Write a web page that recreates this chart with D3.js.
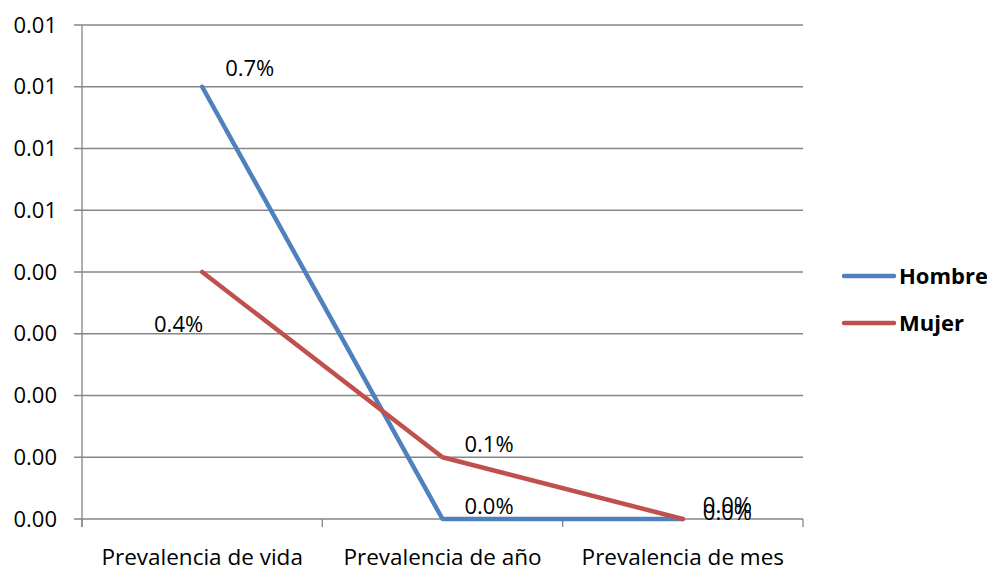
<!DOCTYPE html>
<html><head><meta charset="utf-8">
<script src="https://cdn.jsdelivr.net/npm/d3@7"></script>
<style>
html,body{margin:0;padding:0;background:#fff;}
svg{display:block;font-family:"Open Sans",sans-serif;}
</style></head>
<body>
<svg id="c" width="987" height="569"></svg>
<script>
const categories = ["Prevalencia de vida", "Prevalencia de año", "Prevalencia de mes"];
const hombre = [0.007, 0.0, 0.0];
const mujer = [0.004, 0.001, 0.0];
const seriesNames = ["Hombre", "Mujer"];
const yTicks = [0, 0.001, 0.002, 0.003, 0.004, 0.005, 0.006, 0.007, 0.008];
const hombreLabels = ["0.7%", "0.0%", "0.0%"];
const mujerLabels = ["0.4%", "0.1%", "0.0%"];

// label offsets (style, relative to each point)
const hombreOff = [{dx:23,dy:-11,a:"start"},{dx:22,dy:-5,a:"start"},{dx:20,dy:-6,a:"start"}];
const mujerOff = [{dx:1,dy:60,a:"end"},{dx:22,dy:-5,a:"start"},{dx:20,dy:1,a:"start"}];

const colors = ["#4F81BD", "#C0504D"];
const fs = 22;
const svg = d3.select("#c");
const L = 82, R = 803, T = 25, B = 519;
const x = d3.scaleBand().domain(categories).range([L, R]).paddingInner(0).paddingOuter(0);
const y = d3.scaleLinear().domain([0, 0.008]).range([B, T]);
const cx = c => x(c) + x.bandwidth() / 2;
const grid = "#868686";

// gridlines
svg.append("g").selectAll("line").data(yTicks).join("line")
  .attr("x1", L - 8).attr("x2", R).attr("y1", d => y(d)).attr("y2", d => y(d))
  .attr("stroke", grid).attr("stroke-width", 1.3);

// y axis line
svg.append("line").attr("x1", L).attr("x2", L).attr("y1", T).attr("y2", B + 8)
  .attr("stroke", grid).attr("stroke-width", 1.3);

// x ticks
const xb = categories.map(c => x(c)).concat([R]);
svg.append("g").selectAll("line").data(xb).join("line")
  .attr("x1", d => d).attr("x2", d => d).attr("y1", B).attr("y2", B + 8)
  .attr("stroke", grid).attr("stroke-width", 1.3);

// y labels
svg.append("g").selectAll("text").data(yTicks).join("text")
  .attr("x", 57).attr("y", d => y(d)).attr("dy", "0.35em")
  .attr("text-anchor", "end").attr("font-size", fs).attr("fill", "#000")
  .text(d => d3.format(".2f")(d));

// x labels
svg.append("g").selectAll("text").data(categories).join("text")
  .attr("x", d => cx(d)).attr("y", 565).attr("text-anchor", "middle")
  .attr("font-size", 22.5).attr("fill", "#000").text(d => d);

const series = [hombre, mujer];
const line = d3.line().x((d, i) => cx(categories[i])).y(d => y(d));
series.forEach((s, k) => {
  svg.append("path").attr("d", line(s)).attr("fill", "none")
    .attr("stroke", colors[k]).attr("stroke-width", 4.5)
    .attr("stroke-linejoin", "round").attr("stroke-linecap", "round");
});

// data labels
[[hombre, hombreLabels, hombreOff], [mujer, mujerLabels, mujerOff]].forEach(([s, labs, off]) => {
  svg.append("g").selectAll("text").data(s).join("text")
    .attr("x", (d, i) => cx(categories[i]) + off[i].dx)
    .attr("y", (d, i) => y(d) + off[i].dy)
    .attr("text-anchor", (d, i) => off[i].a)
    .attr("font-size", fs).attr("fill", "#000")
    .text((d, i) => labs[i]);
});

// legend
const lg = svg.append("g");
seriesNames.forEach((n, k) => {
  const ly = 276 + k * 47;
  lg.append("line").attr("x1", 844).attr("x2", 894).attr("y1", ly).attr("y2", ly)
    .attr("stroke", colors[k]).attr("stroke-width", 4.5).attr("stroke-linecap", "round");
  lg.append("text").attr("x", 899).attr("y", ly + 8).attr("font-size", fs)
    .attr("font-weight", "bold").attr("fill", "#000").text(n);
});
</script>
</body></html>
